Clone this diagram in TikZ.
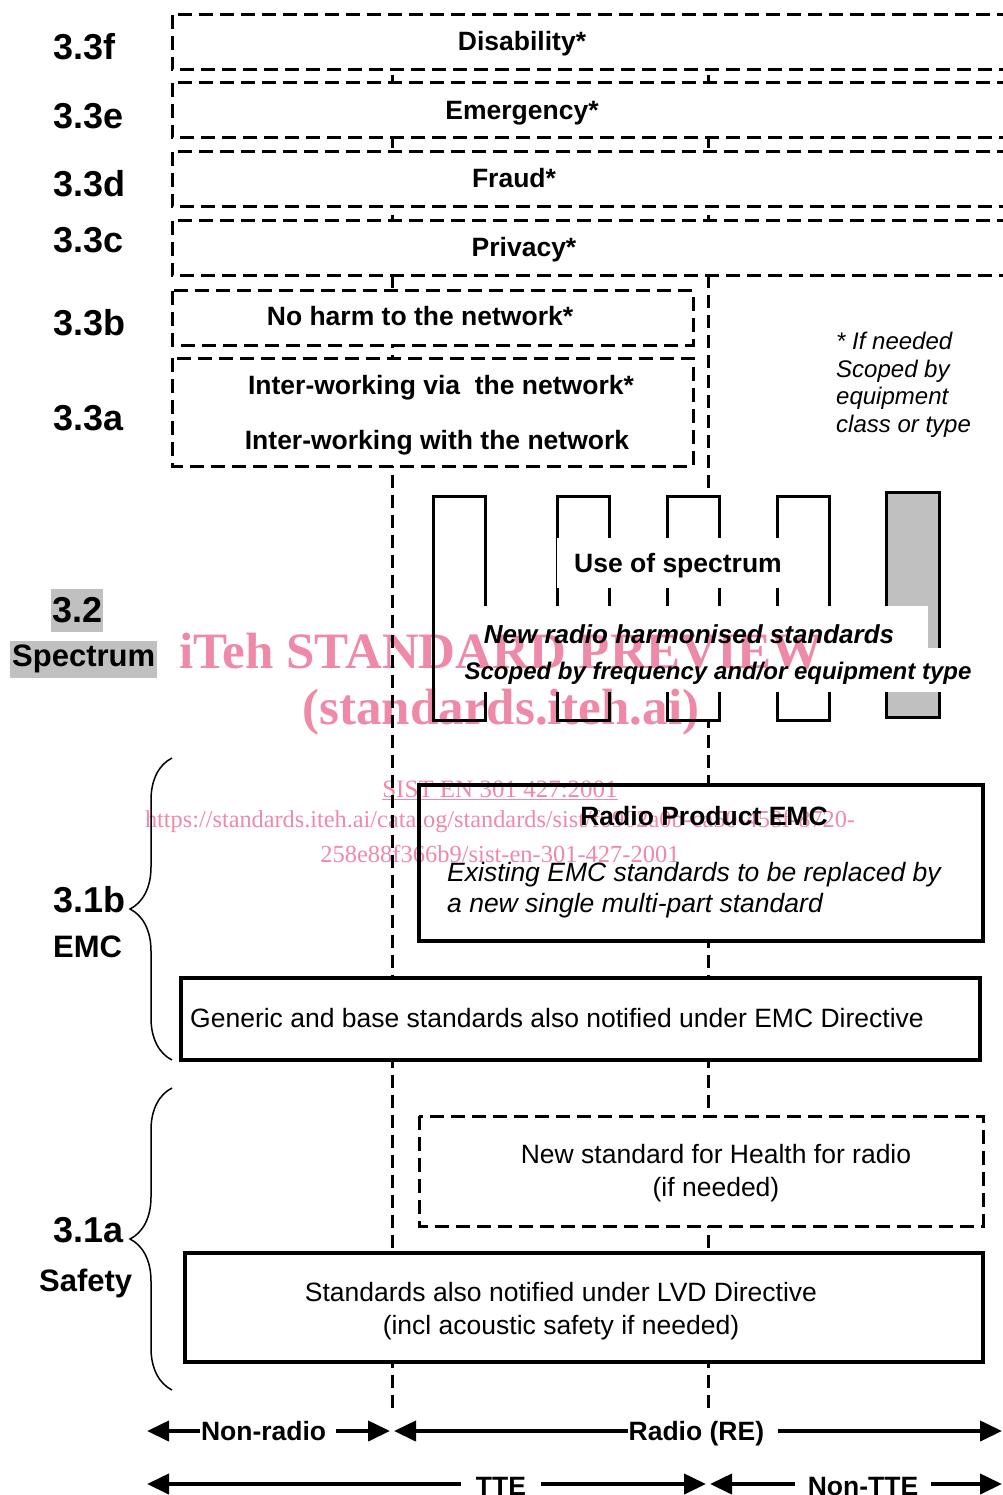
\documentclass[tikz,border=0pt]{standalone}
\usepackage{fontspec}
\setmainfont{Liberation Sans}
\newfontfamily\wmfont{Liberation Serif}
\usetikzlibrary{arrows.meta,decorations.pathreplacing}
\definecolor{specgray}{RGB}{192,192,192}
\definecolor{wmpink}{RGB}{238,138,168}
\tikzset{
  divline/.style={line width=3pt, dash pattern=on 13pt off 7pt},
  dbox/.style={draw, fill=white, line width=3pt, dash pattern=on 14pt off 7pt},
  sbox/.style={draw, fill=white, line width=3.5pt},
  specbar/.style={draw, fill=white, line width=3pt},
  secnum/.style={anchor=west, font=\fontsize{36}{40}\selectfont\bfseries, inner sep=1pt},
  secname/.style={anchor=west, font=\fontsize{31}{36}\selectfont\bfseries, inner sep=1pt},
  btxt/.style={font=\fontsize{26.5}{31}\selectfont\bfseries, inner sep=0pt},
  ntxt/.style={font=\fontsize{26.5}{33}\selectfont, align=center, inner sep=0pt},
  note/.style={font=\fontsize{24}{27.5}\selectfont\itshape, align=left, anchor=north west, inner sep=0pt},
  span/.style={line width=4pt, {Triangle[length=22pt,width=20pt]}-{Triangle[length=22pt,width=20pt]}},
  spanlbl/.style={fill=white, font=\fontsize{26.5}{31}\selectfont\bfseries, inner sep=6pt},
  curly/.style={line width=1.5pt, decorate, decoration={brace, amplitude=42pt}},
  wm/.style={text=wmpink, inner sep=0pt}
}
\begin{document}
\begin{tikzpicture}[x=1pt, y=-1pt]
\useasboundingbox (0,0) rectangle (1002,1495);

\draw[divline] (392,15) -- (392,1410);
\draw[divline] (708,15) -- (708,1410);

% 3.3 c-f
\draw[dbox] (172,15) rectangle (1030,70);
\draw[dbox] (172,83) rectangle (1030,138);
\draw[dbox] (172,152) rectangle (1030,207);
\draw[dbox] (172,221) rectangle (1030,276);
\node[btxt] (disab) at (522,44) {Disability*};
\node[btxt] (emerg) at (522,113) {Emergency*};
\node[btxt] (fraud) at (514,178) {Fraud*};
\node[btxt] (priv) at (524,250) {Privacy*};

% 3.3 a-b
\draw[dbox] (172,291) rectangle (693,345);
\draw[dbox] (172,358) rectangle (693,466);
\node[btxt] (noharm) at (420,316) {No harm to the network*};
\node[btxt] (iwvia) at (441,388) {Inter-working via\ \ the network*};
\node[btxt] (iwwith) at (437,443) {Inter-working with the network};
\node[note] (ifneeded) at (836,332) {* If needed\\Scoped by\\equipment\\class or type};

% 3.2
\foreach \x in {433,557,667,777}
  \draw[specbar] (\x,496) rectangle ++(52,224);
\draw[specbar, fill=specgray] (886,492) rectangle (939,717);
\fill[white] (557,538) rectangle (790,588);
\node[btxt] (usespec) at (678,566) {Use of spectrum};
\fill[white] (460,606) rectangle (928,648);
\fill[white] (460,648) rectangle (976,692);
\node[btxt, font=\fontsize{26}{31}\selectfont\bfseries\itshape] (newradio) at (689,634) {New radio harmonised standards};
\node[btxt, font=\fontsize{24}{29}\selectfont\bfseries\itshape] (scoped) at (718,673) {Scoped by frequency and/or equipment type};

% 3.1b
\draw[sbox] (419,785) rectangle (983,941);
\node[btxt] (rpemc) at (704,816) {Radio Product EMC};
\node[ntxt, font=\fontsize{26.5}{31}\selectfont\itshape, align=left, anchor=west] (existing) at (447,890) {Existing EMC standards to be replaced by\\a new single multi-part standard};
\draw[sbox] (181,978) rectangle (980,1060);
\node[ntxt, anchor=west] (generic) at (190,1018) {Generic and base standards also notified under EMC Directive};

% 3.1a
\draw[dbox] (419,1116) rectangle (983,1226);
\node[ntxt] (health) at (716,1173) {New standard for Health for radio\\(if needed)};
\draw[sbox] (185,1253) rectangle (983,1362);
\node[ntxt] (lvd) at (561,1311) {Standards also notified under LVD Directive\\(incl acoustic safety if needed)};

\draw[curly] (172,1060) -- (172,758);
\draw[curly] (172,1390) -- (172,1088);

% spans
\coordinate (nrL) at (147,1431);
\coordinate (nrR) at (390,1431);
\coordinate (reL) at (394,1431);
\coordinate (reR) at (1002,1431);
\coordinate (tteL) at (147,1484);
\coordinate (tteR) at (706,1484);
\coordinate (ntL) at (710,1484);
\coordinate (ntR) at (1002,1484);
\draw[span] (nrL) -- (nrR);
\draw[span] (reL) -- (reR);
\draw[span] (tteL) -- (tteR);
\draw[span] (ntL) -- (ntR);
\node[spanlbl, inner xsep=1pt] (nonradio) at (268,1431) {Non-radio\,\,};
\node[spanlbl, inner xsep=1pt] (radio) at (703,1434) {Radio (RE)\,\,\,};
\node[spanlbl, inner xsep=15pt] (tte) at (501,1486) {TTE};
\node[spanlbl, inner xsep=13pt] (nontte) at (863,1486) {Non-TTE};

% left labels
\node[secnum] (l33f) at (52,47) {3.3f};
\node[secnum] (l33e) at (52,116) {3.3e};
\node[secnum] (l33d) at (52,184) {3.3d};
\node[secnum] (l33c) at (52,240) {3.3c};
\node[secnum] (l33b) at (52,323) {3.3b};
\node[secnum] (l33a) at (52,418) {3.3a};
\node[secnum, fill=specgray, minimum height=43pt] (l32) at (51,610) {3.2};
\node[secname, fill=specgray, inner xsep=2pt, minimum height=37pt] (lspec) at (10,659) {\raisebox{-3pt}{Spectrum}};
\node[secnum] (l31b) at (52,900) {3.1b};
\node[secname] (lemc) at (52,947) {EMC};
\node[secnum] (l31a) at (52,1230) {3.1a};
\node[secname] (lsafe) at (38,1283) {Safety};

% watermark
\begin{scope}[blend mode=multiply]
\node[wm, font=\wmfont\fontsize{51}{56}\selectfont\bfseries] (wm1) at (501,651) {iTeh STANDARD PREVIEW};
\node[wm, font=\wmfont\fontsize{51}{56}\selectfont\bfseries] (wm2) at (501,712) {(standards.iteh.ai)};
\node[wm, font=\wmfont\fontsize{25}{30}\selectfont] (wm3) at (500,790) {\underline{SIST EN 301 427:2001}};
\node[wm, font=\wmfont\fontsize{24.3}{30}\selectfont] (wm4) at (500,822) {https://standards.iteh.ai/catalog/standards/sist/f0902a0b-ca50-458f-8720-};
\node[wm, font=\wmfont\fontsize{24.5}{30}\selectfont] (wm5) at (500,854) {258e88f366b9/sist-en-301-427-2001};
\end{scope}
\end{tikzpicture}
\end{document}
